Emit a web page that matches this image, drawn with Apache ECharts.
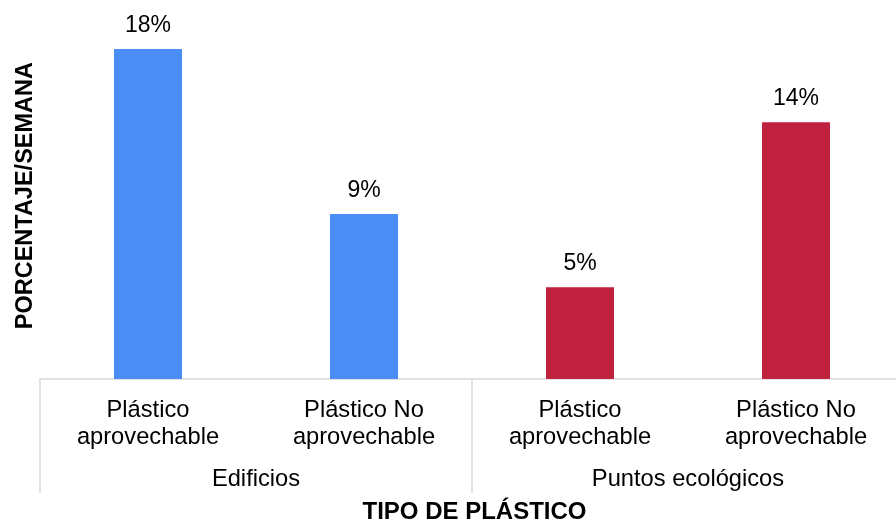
<!DOCTYPE html>
<html>
<head>
<meta charset="utf-8">
<script src="https://cdn.jsdelivr.net/npm/echarts@6/dist/echarts.min.js"></script>
<style>html,body{margin:0;padding:0;background:#fff;}#c{width:896px;height:521px;}</style>
</head>
<body>
<div id="c"></div>
<script>
const categories = ['Plástico\naprovechable', 'Plástico No\naprovechable', 'Plástico\naprovechable', 'Plástico No\naprovechable'];
const groups = ['Edificios', 'Puntos ecológicos'];
const values = [18, 9, 5, 14];
const groupOfBar = [0, 0, 1, 1];
const groupColors = ['#4A8EF5', '#C0213F'];

const chart = echarts.init(document.getElementById('c'), null, {renderer: 'canvas'});
const font = 'Liberation Sans, Arial, sans-serif';
chart.setOption({
  animation: false,
  grid: {left: 40, top: 12.3, width: 864, bottom: 142, outerBoundsMode: 'none', containLabel: false},
  xAxis: [{
    type: 'category',
    data: categories,
    position: 'bottom',
    axisLine: {show: true, lineStyle: {color: '#d9d9d9', width: 1.5}},
    axisTick: {show: false},
    axisLabel: {color: '#000', fontSize: 23.7, fontFamily: font, lineHeight: 27, margin: 18, interval: 0}
  }, {
    type: 'category',
    data: groups,
    position: 'bottom',
    boundaryGap: true,
    axisLine: {show: false},
    axisTick: {show: true, length: 114, lineStyle: {color: '#d9d9d9', width: 1.5}},
    axisLabel: {color: '#000', fontSize: 23.7, fontFamily: font, margin: 88, interval: 0},
    name: 'TIPO DE PLÁSTICO',
    nameLocation: 'middle',
    nameGap: 121.5,
    nameTextStyle: {color: '#000', fontSize: 24, fontWeight: 'bold', fontFamily: font, padding: [0, 0, 0, 5]}
  }],
  yAxis: {
    type: 'value',
    min: 0, max: 20,
    axisLine: {show: false}, axisTick: {show: false}, axisLabel: {show: false}, splitLine: {show: false},
    name: 'PORCENTAJE/SEMANA',
    nameLocation: 'middle',
    nameGap: 2,
    nameTextStyle: {color: '#000', fontSize: 23.5, fontWeight: 'bold', fontFamily: font}
  },
  series: [{
    type: 'bar',
    xAxisIndex: 0,
    barWidth: 68,
    data: values.map((v, i) => ({value: v, itemStyle: {color: groupColors[groupOfBar[i]]}})),
    label: {show: true, position: 'top', distance: 12, formatter: '{c}%', color: '#000', fontSize: 23, fontFamily: font}
  }]
});
</script>
</body>
</html>
